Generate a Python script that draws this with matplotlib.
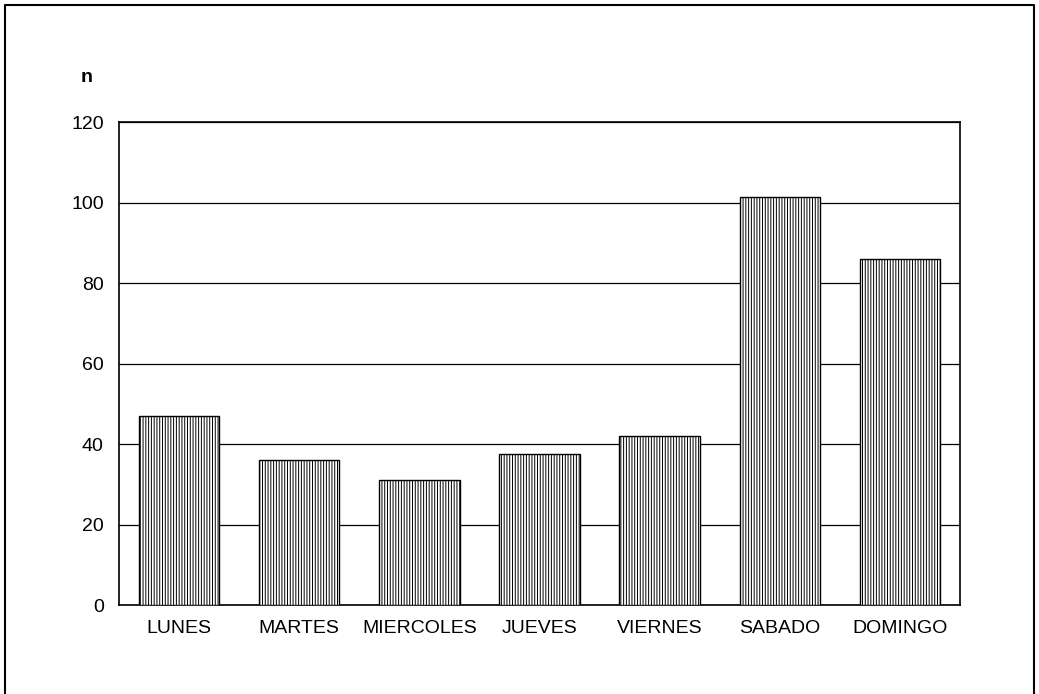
import matplotlib
matplotlib.use("Agg")
import matplotlib.pyplot as plt
from matplotlib.lines import Line2D

dias = ["LUNES", "MARTES", "MIERCOLES", "JUEVES", "VIERNES", "SABADO", "DOMINGO"]
n_casos = [47, 36, 31, 37.5, 42, 101.5, 86]
y_ticks = [0, 20, 40, 60, 80, 100, 120]

plt.rcParams['font.family'] = ['Liberation Sans', 'DejaVu Sans']
plt.rcParams['hatch.linewidth'] = 0.7

fig = plt.figure(figsize=(10.39, 6.94), dpi=100)
ax = fig.add_axes([0.1145, 0.128, 0.8095, 0.696])

ax.bar(range(len(dias)), n_casos, width=0.67, color='white', edgecolor='black',
       hatch='||||||', linewidth=1.0, zorder=3)

ax.set_ylim(0, 120)
ax.set_xlim(-0.5, len(dias) - 0.5)
ax.set_yticks(y_ticks)
ax.set_xticks(range(len(dias)))
ax.set_xticklabels(dias)
ax.yaxis.grid(True, color='black', linewidth=0.9, zorder=0)
ax.set_axisbelow(True)
ax.tick_params(axis='both', length=0, labelsize=14)
ax.tick_params(axis='y', pad=11)
ax.tick_params(axis='x', pad=11)
for s in ax.spines.values():
    s.set_linewidth(1.2)

fig.text(87 / 1039, 1 - 77 / 694, "n", fontsize=14, fontweight='bold',
         ha='center', va='center')

# marco exterior (sin borde inferior, queda fuera del recorte)
x0, x1 = 5 / 1039, 1034 / 1039
y_top = 1 - 5 / 694
fig.add_artist(Line2D([x0, x0, x1, x1], [0, y_top, y_top, 0],
                      transform=fig.transFigure, color='black', linewidth=1.5))

fig.savefig("out.png", dpi=100)
